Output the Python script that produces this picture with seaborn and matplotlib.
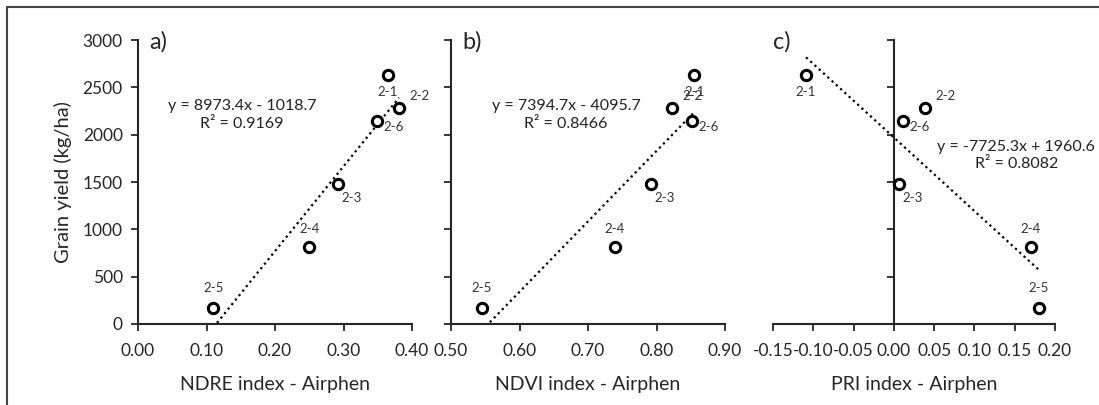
import numpy as np
import pandas as pd
import seaborn as sns
import matplotlib.pyplot as plt
from matplotlib.lines import Line2D

# plot labels and grain yield (kg/ha)
plots = ['2-1', '2-2', '2-3', '2-4', '2-5', '2-6']
yield_kg = [2630, 2280, 1475, 815, 170, 2150]

# vegetation indices (Airphen)
ndre = [0.365, 0.381, 0.292, 0.250, 0.110, 0.349]
ndvi = [0.855, 0.822, 0.792, 0.739, 0.545, 0.852]
pri = [-0.109, 0.0385, 0.006, 0.170, 0.180, 0.011]

eq_text = ['y = 8973.4x - 1018.7\nR² = 0.9169',
           'y = 7394.7x - 4095.7\nR² = 0.8466',
           'y = -7725.3x + 1960.6\nR² = 0.8082']
panel_tags = ['a)', 'b)', 'c)']
xlabels = ['NDRE index - Airphen', 'NDVI index - Airphen', 'PRI index - Airphen']
xlims = [(0.0, 0.40), (0.50, 0.90), (-0.15, 0.20)]
xtick_sets = [np.arange(0, 0.401, 0.1), np.arange(0.5, 0.901, 0.1),
              np.arange(-0.15, 0.201, 0.05)]

df = pd.DataFrame({'plot': plots, 'yield': yield_kg,
                   'NDRE': ndre, 'NDVI': ndvi, 'PRI': pri})
cols = ['NDRE', 'NDVI', 'PRI']

sns.set_style('ticks')
plt.rcParams['font.family'] = ['Lato', 'DejaVu Sans']

# label offsets in points (dx, dy)
lab_off = {'2-1': (0, -12), '2-2': (15, 9), '2-3': (10, -10),
           '2-4': (0, 13), '2-5': (0, 14), '2-6': (12, -5)}

eq_pos = [(0.152, 2210), (0.668, 2210), (0.152, 1780)]

fig = plt.figure(figsize=(10.99, 4.05), dpi=100)
boxes = [(0.1256, 0.3749), (0.4104, 0.6597), (0.7034, 0.960)]
bottom, top = 0.200, 0.901

for i, col in enumerate(cols):
    l, r = boxes[i]
    ax = fig.add_axes([l, bottom, r - l, top - bottom])
    sns.regplot(data=df, x=col, y='yield', ax=ax, ci=None, truncate=True,
                scatter=False, line_kws={'color': 'black', 'lw': 1.6,
                                         'linestyle': (0, (1, 1.6))})
    sns.scatterplot(data=df, x=col, y='yield', ax=ax, s=55, marker='o',
                    facecolor='white', edgecolor='black', linewidth=2.2,
                    zorder=3)
    for _, row in df.iterrows():
        dx, dy = lab_off[row['plot']]
        ax.annotate(row['plot'], (row[col], row['yield']), xytext=(dx, dy),
                    textcoords='offset points', ha='center', va='center',
                    fontsize=9.5, color='#333333')
    ax.text(eq_pos[i][0], eq_pos[i][1], eq_text[i], ha='center', va='center',
            fontsize=11.5, linespacing=1.3, color='#222222')
    ax.set_xlim(*xlims[i])
    ax.set_ylim(0, 3000)
    ax.set_xticks(xtick_sets[i])
    ax.set_xticklabels(['%.2f' % v for v in xtick_sets[i]])
    ax.set_yticks(range(0, 3001, 500))
    ax.set_xlabel(xlabels[i], fontsize=14, labelpad=12)
    ax.set_ylabel('')
    for s in ['top', 'right']:
        ax.spines[s].set_visible(False)
    for s in ['left', 'bottom']:
        ax.spines[s].set_linewidth(1.5)
    ax.tick_params(width=1.3, length=5, labelsize=12.5, pad=6)
    ax.tick_params(axis='x', pad=9)
    if i == 0:
        ax.set_ylabel('Grain yield (kg/ha)', fontsize=14.5, labelpad=8)
    else:
        ax.tick_params(axis='y', labelleft=False)
    if i == 2:
        ax.spines['left'].set_position(('data', 0))
    ax.text(0.04 if i < 2 else 0.0, 0.995, panel_tags[i], transform=ax.transAxes,
            fontsize=17, ha='left', va='center')

# outer frame (top and left edges)
fig.add_artist(Line2D([7 / 1099, 1], [1 - 7 / 405, 1 - 7 / 405],
                      color='#444444', lw=1.5, transform=fig.transFigure))
fig.add_artist(Line2D([7 / 1099, 7 / 1099], [0, 1 - 7 / 405],
                      color='#444444', lw=1.5, transform=fig.transFigure))

fig.savefig('out.png', dpi=100)
